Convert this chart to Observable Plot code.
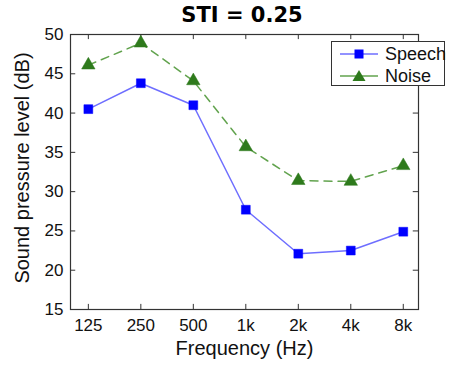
<!DOCTYPE html>
<html>
<head>
<meta charset="utf-8">
<script src="https://cdn.jsdelivr.net/npm/d3@7"></script>
<script src="https://cdn.jsdelivr.net/npm/@observablehq/plot@0.6"></script>
<style>
  html, body { margin: 0; padding: 0; background: #fff; }
  #wrap { position: relative; width: 451px; height: 369px; font-family: "Liberation Sans", Arial, sans-serif; }
  #title { position: absolute; left: 0; width: 484px; top: 3px; text-align: center; font-family: "DejaVu Sans", sans-serif; font-weight: bold; font-size: 21px; color: #000; line-height: 24px; }
  #legend { position: absolute; left: 331px; top: 41px; width: 114px; height: 45px; border: 1px solid #333; background: #fff; box-sizing: border-box; }
  .row { position: absolute; left: 0; height: 22px; display: flex; align-items: center; }
  .row span { font-size: 18px; color: #111; margin-left: 6px; }
  #chart { position: absolute; left: 0; top: 0; }
</style>
</head>
<body>
<div id="wrap">
  <div id="chart"></div>
  <div id="title"></div>
  <div id="legend"></div>
</div>
<script>
const title = "STI = 0.25";
const frequencies = ["125", "250", "500", "1k", "2k", "4k", "8k"];
const speech = [40.5, 43.8, 41.0, 27.7, 22.1, 22.5, 24.9];
const noise = [46.1, 48.9, 44.1, 35.7, 31.4, 31.3, 33.3];
const yTicks = [15, 20, 25, 30, 35, 40, 45, 50];
const seriesNames = ["Speech", "Noise"];
const xLabel = "Frequency (Hz)";
const yLabel = "Sound pressure level (dB)";

const speechColor = "#0000ff", speechLine = "#6e6eff";
const noiseColor = "#2e7a1c", noiseLine = "#62a34e";

const idx = frequencies.map((_, i) => i);
const speechData = idx.map(i => ({i, v: speech[i]}));
const noiseData = idx.map(i => ({i, v: noise[i]}));

const xDom = [-0.34, 6.29], yDom = [15, 50];
const tx = 0.1, ty = 0.65; // inward tick lengths (~5px)

const chart = Plot.plot({
  width: 451, height: 369,
  marginTop: 34, marginBottom: 60, marginLeft: 70, marginRight: 33,
  style: {fontFamily: "Liberation Sans, Arial, sans-serif", background: "#fff", overflow: "visible"},
  x: {type: "linear", domain: xDom, axis: null},
  y: {type: "linear", domain: yDom, axis: null},
  marks: [
    Plot.ruleX(idx, {x: d => d, y1: yDom[0], y2: yDom[0] + ty, stroke: "#333", strokeWidth: 1}),
    Plot.ruleX(idx, {x: d => d, y1: yDom[1], y2: yDom[1] - ty, stroke: "#333", strokeWidth: 1}),
    Plot.ruleY(yTicks, {y: d => d, x1: xDom[0], x2: xDom[0] + tx, stroke: "#333", strokeWidth: 1}),
    Plot.ruleY(yTicks, {y: d => d, x1: xDom[1], x2: xDom[1] - tx, stroke: "#333", strokeWidth: 1}),
    Plot.axisX(idx, {anchor: "bottom", tickSize: 0, tickPadding: 9, tickFormat: i => frequencies[i], fontSize: 17, fill: "#111", label: null}),
    Plot.axisY(yTicks, {anchor: "left", tickSize: 0, tickPadding: 7, fontSize: 17, fill: "#111", label: null}),
    Plot.text([xLabel], {frameAnchor: "bottom", dy: 45, fontSize: 20, fill: "#111", text: d => d}),
    Plot.text([yLabel], {frameAnchor: "left", dx: -48, dy: -4, rotate: -90, textAnchor: "middle", fontSize: 20, fill: "#111", text: d => d}),
    Plot.line(noiseData, {x: "i", y: "v", stroke: noiseLine, strokeWidth: 1.5, strokeDasharray: "8,6"}),
    Plot.dot(noiseData, {x: "i", y: "v", symbol: "triangle", r: 5, fill: noiseColor, stroke: noiseColor, strokeWidth: 0.5}),
    Plot.line(speechData, {x: "i", y: "v", stroke: speechLine, strokeWidth: 1.5}),
    Plot.dot(speechData, {x: "i", y: "v", symbol: "square", r: 5, fill: speechColor, stroke: speechColor, strokeWidth: 0.5}),
    Plot.frame({stroke: "#333", strokeWidth: 1.2})
  ]
});
document.getElementById("chart").appendChild(chart);
document.getElementById("title").textContent = title;

const legend = document.getElementById("legend");
const items = [
  {name: seriesNames[0], line: speechLine, fill: speechColor, shape: "square"},
  {name: seriesNames[1], line: noiseLine, fill: noiseColor, shape: "triangle"}
];
items.forEach((it, k) => {
  const row = document.createElement("div");
  row.className = "row";
  row.style.top = (1 + k * 22) + "px";
  const w = 40, h = 22, cy = 11;
  const marker = it.shape === "square"
    ? `<rect x="${w/2 - 4.5}" y="${cy - 4.5}" width="9" height="9" fill="${it.fill}"/>`
    : `<path d="M${w/2},${cy - 6} L${w/2 + 6.5},${cy + 5} L${w/2 - 6.5},${cy + 5} Z" fill="${it.fill}"/>`;
  row.innerHTML = `<svg width="${w}" height="${h}" style="margin-left:7px"><line x1="1" x2="${w - 1}" y1="${cy}" y2="${cy}" stroke="${it.line}" stroke-width="1.5"/>${marker}</svg><span>${it.name}</span>`;
  legend.appendChild(row);
});
</script>
</body>
</html>
